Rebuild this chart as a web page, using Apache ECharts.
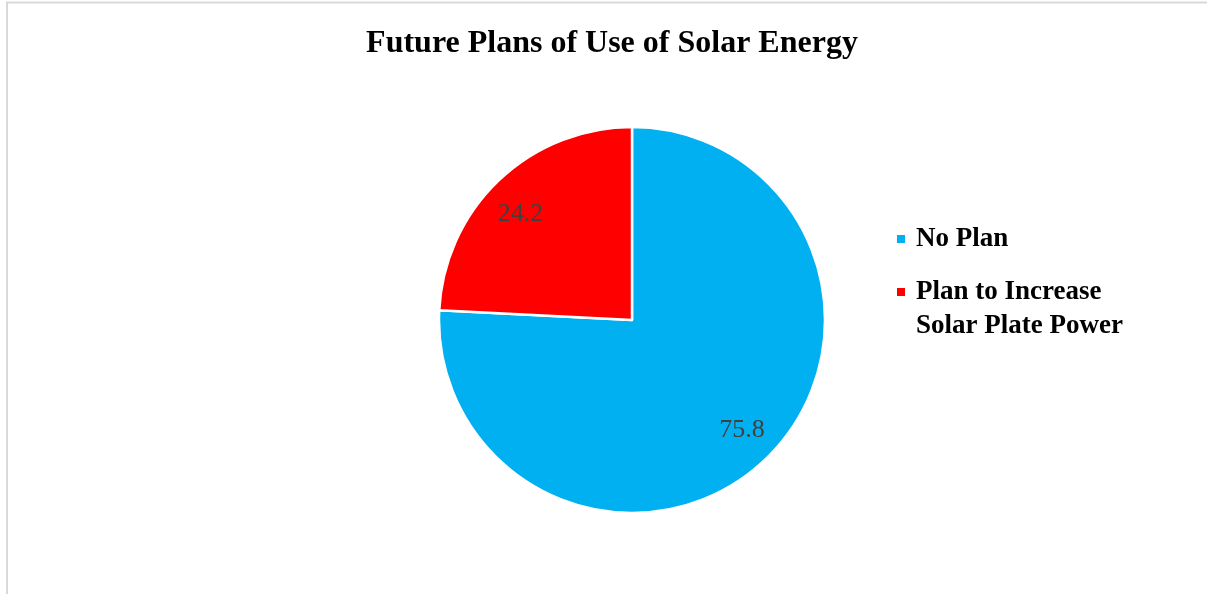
<!DOCTYPE html>
<html>
<head>
<meta charset="utf-8">
<script src="https://cdn.jsdelivr.net/npm/echarts@6/dist/echarts.min.js"></script>
<style>
html,body{margin:0;padding:0;background:#fff;}
#chart{width:1207px;height:594px;}
</style>
</head>
<body>
<div id="chart"></div>
<script>
const titleText = 'Future Plans of Use of Solar Energy';
const categories = ['No Plan', 'Plan to Increase Solar Plate Power'];
const legendLabels = ['No Plan', '\nPlan to Increase\nSolar Plate Power'];
const values = [75.8, 24.2];
const colors = ['#00B0F0', '#FF0000'];
const labelOffsets = [[1.5, -4], [-3, 8]];

const serif = '"Liberation Serif", "Times New Roman", serif';
const data = categories.map((c, i) => ({ name: c, value: values[i], itemStyle: { color: colors[i] } }));
const labelData = categories.map((c, i) => ({ name: c, value: values[i], label: { offset: labelOffsets[i] } }));

const legendText = { fontFamily: serif, fontWeight: 'bold', fontSize: 27, color: '#000', lineHeight: 34, padding: [0, 0, 0, 5] };

const chart = echarts.init(document.getElementById('chart'), null, { renderer: 'canvas' });
chart.setOption({
  animation: false,
  backgroundColor: '#fff',
  title: {
    text: titleText,
    left: 607,
    textAlign: 'center',
    top: 23,
    textStyle: { fontFamily: serif, fontWeight: 'bold', fontSize: 32, color: '#000' }
  },
  graphic: [{
    type: 'rect',
    shape: { x: 7, y: 2.5, width: 1400, height: 800 },
    style: { fill: 'none', stroke: '#d9d9d9', lineWidth: 2 },
    silent: true
  }],
  legend: [{
    data: [categories[0]],
    left: 895, top: 222, padding: 0,
    icon: 'rect', itemWidth: 10, itemHeight: 10,
    formatter: n => legendLabels[categories.indexOf(n)],
    textStyle: Object.assign({}, legendText)
  }, {
    data: [categories[1]],
    left: 895, top: 241, padding: 0,
    icon: 'rect', itemWidth: 10, itemHeight: 10,
    formatter: n => legendLabels[categories.indexOf(n)],
    textStyle: Object.assign({}, legendText)
  }],
  series: [{
    type: 'pie',
    center: [632, 320],
    radius: [0, 193],
    startAngle: 90,
    clockwise: true,
    data: data,
    label: { show: false },
    labelLine: { show: false },
    itemStyle: { borderColor: '#fff', borderWidth: 2.5 },
    emphasis: { disabled: true }
  }, {
    type: 'pie',
    center: [632, 320],
    radius: [116, 193],
    startAngle: 90,
    clockwise: true,
    silent: true,
    data: labelData,
    itemStyle: { color: 'rgba(0,0,0,0)', borderWidth: 0 },
    label: {
      show: true, position: 'inside', formatter: p => p.value.toFixed(1),
      fontFamily: serif, fontSize: 26, color: '#404040'
    },
    labelLine: { show: false },
    emphasis: { disabled: true }
  }]
});
</script>
</body>
</html>
